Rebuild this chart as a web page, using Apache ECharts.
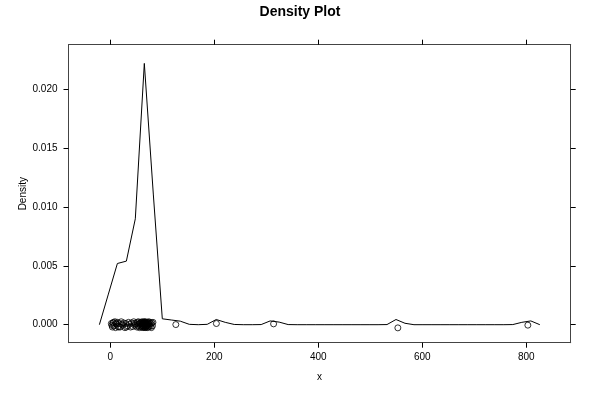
<!DOCTYPE html>
<html><head><meta charset="utf-8">
<script src="https://cdn.jsdelivr.net/npm/echarts@6/dist/echarts.min.js"></script>
<style>html,body{margin:0;padding:0;background:#fff}#c{width:600px;height:400px}</style>
</head><body><div id="c"></div>
<script>
// Density curve (evaluation grid and estimated density)
const densX = [-21.0,-3.7,13.6,30.9,48.1,65.4,82.7,100.0,117.3,134.6,151.9,169.1,186.4,203.7,221.0,238.3,255.6,272.9,290.1,307.4,324.7,342.0,359.3,376.6,393.9,411.1,428.4,445.7,463.0,480.3,497.6,514.9,532.1,549.4,566.7,584.0,601.3,618.6,635.9,653.1,670.4,687.7,705.0,722.3,739.6,756.9,774.1,791.4,808.7,826.0];
const densY = [0,0.0026,0.0052,0.0054,0.0090,0.0222,0.0111,0.0005,0.0004,0.0003,0.00003,0,0.00003,0.00044,0.0002,0.00002,0,0,0.00001,0.00032,0.00022,0.00001,0,0,0,0,0,0,0,0,0,0,0.00001,0.00044,0.00012,0,0,0,0,0,0,0,0,0,0,0,0.00001,0.0002,0.00032,0];
// Observations (jittered vertically around 0)
const obsX = [2,3,4,5,6,7,9,10,11,12,14,15,16,17,19,21,22,24,26,28,30,31,33,35,37,39,41,43,45,46,47,49,
  51,52,53,54,55,56,57,58,58,59,60,60,61,61,62,62,63,63,64,64,64,65,65,65,66,66,66,67,67,67,68,68,69,69,70,70,71,71,72,72,73,73,74,75,75,76,77,78,79,80,81,82,
  126,204,314,553,803];
const obsY = [0.0001,-0.00005,-0.0002,0.00015,0.0002,-0.0001,0.00025,-0.00025,0.0001,0.00005,0.0002,-0.00015,-0.0002,0.0001,-0.0002,0.00025,0.00005,-0.00005,0.00015,-0.00025,0.0001,-0.0002,-0.0001,0.0002,0.00005,-0.0002,0.00015,-0.00015,0.00025,0.0001,-0.00005,0.0001,
  -0.0002,0.0002,-0.0001,0.00025,0.00005,-0.00025,0.00015,-0.00015,0.0001,0.0002,-0.00005,-0.0002,0.00025,0.0001,-0.0001,0.00015,-0.00025,0.00005,0.0002,-0.00015,0.0001,-0.0002,0.00025,-0.00005,0.00015,-0.0001,0.0002,-0.00025,0.00005,0.0001,-0.00015,0.00025,-0.0002,0.00015,0.00005,-0.0001,0.0002,-0.00025,0.0001,-0.00005,0.00015,-0.0002,0.00025,-0.0001,0.00005,0.0002,-0.00015,0.0001,-0.00025,0.00015,-0.0001,0.0002,
  0.00001,0.0001,0.00007,-0.00027,-0.00004];
const xTicks = [0,200,400,600,800];
const yTicks = [0,0.005,0.010,0.015,0.020];

const font = 'Liberation Sans, Helvetica, Arial, sans-serif';
const boxColor = '#444';
const chart = echarts.init(document.getElementById('c'));
const xBase = {type:'value', min:-80.4, max:885.4, splitLine:{show:false},
  axisLine:{show:true,onZero:false,lineStyle:{color:boxColor,width:1}},
  axisTick:{show:true,inside:false,length:5,customValues:xTicks,lineStyle:{color:'#000'}}};
const yBase = {type:'value', min:-0.00153, max:0.02379, splitLine:{show:false},
  axisLine:{show:true,onZero:false,lineStyle:{color:boxColor,width:1}},
  axisTick:{show:true,inside:false,length:5,customValues:yTicks,lineStyle:{color:'#000'}}};
chart.setOption({
  animation:false,
  backgroundColor:'#fff',
  title:{text:'Density Plot', left:'center', top:0,
    textStyle:{fontFamily:font,fontSize:14,fontWeight:'bold',color:'#000'}},
  grid:{left:68.5, right:29.3, top:44.7, bottom:57.3},
  xAxis:[
    Object.assign({}, xBase, {position:'bottom', name:'x', nameLocation:'middle', nameGap:30, nameMoveOverlap:false,
      nameTextStyle:{fontFamily:font,fontSize:10,color:'#000'},
      axisLabel:{show:true,margin:10,customValues:xTicks,fontFamily:font,fontSize:10,color:'#000'}}),
    Object.assign({}, xBase, {position:'top', axisLabel:{show:false}})
  ],
  yAxis:[
    Object.assign({}, yBase, {position:'left', name:'Density', nameLocation:'middle', nameGap:40, nameMoveOverlap:false,
      nameTextStyle:{fontFamily:font,fontSize:10,color:'#000'},
      axisLabel:{show:true,margin:11,customValues:yTicks,fontFamily:font,fontSize:10,color:'#000',
        formatter:v=>v.toFixed(3)}}),
    Object.assign({}, yBase, {position:'right', axisLabel:{show:false}})
  ],
  series:[
    {type:'line', xAxisIndex:0, yAxisIndex:0, data:densX.map((x,i)=>[x,densY[i]]),
      showSymbol:false, symbol:'none', lineStyle:{color:'#000',width:1}, silent:true},
    {type:'scatter', xAxisIndex:0, yAxisIndex:0, data:obsX.map((x,i)=>[x,obsY[i]]),
      symbol:'circle', symbolSize:6,
      itemStyle:{color:'rgba(255,255,255,0)',borderColor:'#000',borderWidth:1}, silent:true}
  ]
});
</script></body></html>
